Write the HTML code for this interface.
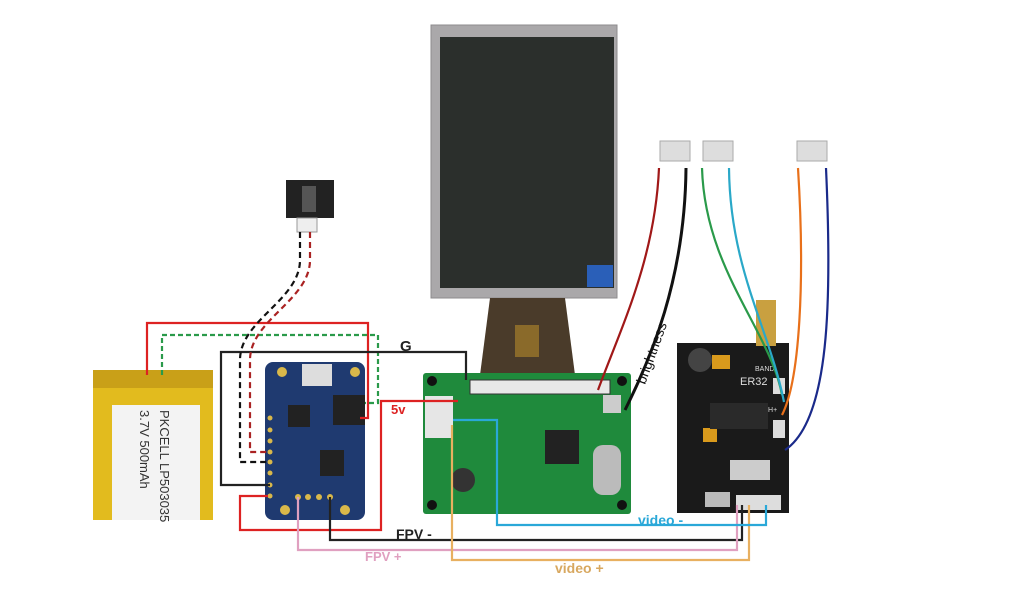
<!DOCTYPE html>
<html><head><meta charset="utf-8"><style>
html,body{margin:0;padding:0;background:#fff;}
svg{display:block;font-family:"Liberation Sans",sans-serif;}
</style></head><body>
<svg width="1024" height="602" viewBox="0 0 1024 602" xmlns="http://www.w3.org/2000/svg">
<!-- LCD -->
<rect x="431" y="25" width="186" height="273" fill="#aaa8aa" stroke="#8d8b8d"/>
<rect x="440" y="37" width="174" height="251" fill="#2b2f2c"/>
<rect x="587" y="265" width="26" height="22" fill="#2a5fb8"/>
<!-- ribbon -->
<polygon points="490,298 565,298 575,375 480,375" fill="#4a3b2a"/>
<rect x="515" y="325" width="24" height="32" fill="#8a6a2a"/>
<!-- green board -->
<rect x="423" y="373" width="208" height="141" rx="3" fill="#1f8a3c"/>
<rect x="470" y="380" width="140" height="14" fill="#e8e8e8" stroke="#333"/>
<rect x="425" y="396" width="28" height="42" fill="#e6e6e6"/>
<rect x="545" y="430" width="34" height="34" fill="#222"/>
<rect x="603" y="395" width="18" height="18" fill="#ccc"/>
<rect x="593" y="445" width="28" height="50" rx="10" fill="#bbb"/>
<circle cx="463" cy="480" r="12" fill="#333"/>
<circle cx="432" cy="381" r="5" fill="#111"/><circle cx="622" cy="381" r="5" fill="#111"/>
<circle cx="432" cy="505" r="5" fill="#111"/><circle cx="622" cy="505" r="5" fill="#111"/>
<!-- battery -->
<rect x="93" y="370" width="120" height="150" fill="#e2bb1e"/>
<rect x="93" y="370" width="120" height="18" fill="#c9a018"/>
<rect x="112" y="405" width="88" height="115" fill="#f3f3f3"/>
<text transform="translate(140,410) rotate(90)" font-size="13" fill="#333">3.7V 500mAh</text>
<text transform="translate(160,410) rotate(90)" font-size="13" fill="#333">PKCELL LP503035</text>
<!-- adafruit -->
<rect x="265" y="362" width="100" height="158" rx="8" fill="#1f3a70"/>
<rect x="302" y="364" width="30" height="22" fill="#ddd"/>
<rect x="333" y="395" width="32" height="30" fill="#222"/>
<rect x="288" y="405" width="22" height="22" fill="#222"/>
<rect x="320" y="450" width="24" height="26" fill="#222"/>
<circle cx="282" cy="372" r="5" fill="#d9b84a"/><circle cx="355" cy="372" r="5" fill="#d9b84a"/>
<circle cx="285" cy="510" r="5" fill="#d9b84a"/><circle cx="345" cy="510" r="5" fill="#d9b84a"/>
<g fill="#d9b84a"><circle cx="270" cy="418" r="2.5"/><circle cx="270" cy="430" r="2.5"/><circle cx="270" cy="441" r="2.5"/><circle cx="270" cy="452" r="2.5"/><circle cx="270" cy="462" r="2.5"/><circle cx="270" cy="473" r="2.5"/><circle cx="270" cy="485" r="2.5"/><circle cx="270" cy="496" r="2.5"/>
<circle cx="298" cy="497" r="3"/><circle cx="308" cy="497" r="3"/><circle cx="319" cy="497" r="3"/><circle cx="330" cy="497" r="3"/></g>
<!-- ER32 -->
<rect x="677" y="343" width="112" height="170" fill="#1a1a1a"/>
<circle cx="700" cy="360" r="12" fill="#444"/>
<rect x="712" y="355" width="18" height="14" fill="#d99a1c"/>
<rect x="703" y="428" width="14" height="14" fill="#d99a1c"/>
<text x="740" y="385" font-size="11" fill="#ddd">ER32</text>
<text x="755" y="371" font-size="7" fill="#ddd">BAND</text>
<text x="763" y="412" font-size="7" fill="#ddd">CH+</text>
<rect x="710" y="403" width="58" height="26" fill="#2a2a2a"/>
<rect x="730" y="460" width="40" height="20" fill="#ccc"/>
<rect x="705" y="492" width="25" height="15" fill="#bbb"/>
<rect x="736" y="495" width="45" height="15" fill="#ddd"/>
<rect x="773" y="378" width="12" height="16" fill="#ddd"/>
<rect x="773" y="420" width="12" height="18" fill="#ddd"/>
<!-- antenna -->
<rect x="756" y="300" width="20" height="46" fill="#c9a040"/>
<!-- switch -->
<rect x="286" y="180" width="48" height="38" fill="#222"/>
<rect x="302" y="186" width="14" height="26" fill="#555"/>
<rect x="297" y="218" width="20" height="14" fill="#eee" stroke="#999"/>
<!-- buttons -->
<g fill="#ddd" stroke="#aaa">
<rect x="660" y="141" width="30" height="20"/><rect x="703" y="141" width="30" height="20"/><rect x="797" y="141" width="30" height="20"/>
</g>
<g fill="none" stroke-width="2.2">
<path d="M147,375 V323 H368 V418 H360" stroke="#d22"/>
<path d="M162,375 V335 H378 V403 H365" stroke="#2a9a4a" stroke-dasharray="5,3"/>
<path d="M270,485 H221 V352 H466 V380" stroke="#222"/>
<path d="M268,496 H240 V530 H381 V401 H458" stroke="#d22"/>
<path d="M300,232 V260 C300,300 240,320 240,360 V462 H268" stroke="#111" stroke-dasharray="6,4"/>
<path d="M310,232 V260 C310,300 250,320 250,360 V452 H268" stroke="#a22" stroke-dasharray="6,4"/>
<path d="M330,497 V540 H742 V505" stroke="#222"/>
<path d="M298,497 V550 H737 V505" stroke="#e0a0c0"/>
<path d="M452,425 V560 H749 V505" stroke="#e8b060"/>
<path d="M453,420 H497 V525 H766 V505" stroke="#2aa8d8"/>
<path d="M659,168 C655,260 620,330 598,390" stroke="#a01818"/>
<path d="M686,168 C685,280 650,360 625,410" stroke="#111" stroke-width="3"/>
<path d="M702,168 C705,270 770,330 782,395" stroke="#2a9a4a"/>
<path d="M729,168 C730,270 770,330 784,402" stroke="#2aa8c8"/>
<path d="M798,168 C805,280 800,380 782,415" stroke="#e8701a"/>
<path d="M826,168 C832,300 830,420 785,450" stroke="#1a2a8a"/>
</g>
<text x="400" y="351" font-size="15" font-weight="bold" fill="#222">G</text>
<text x="391" y="414" font-size="13" font-weight="bold" fill="#d22">5v</text>
<text x="396" y="539" font-size="14" font-weight="bold" fill="#222">FPV -</text>
<text x="365" y="561" font-size="13" font-weight="bold" fill="#e0a0c0">FPV +</text>
<text x="638" y="525" font-size="14" font-weight="bold" fill="#2aa8d8">video -</text>
<text x="555" y="573" font-size="14" font-weight="bold" fill="#d8a860">video +</text>
<text transform="translate(645,385) rotate(-70)" font-size="14" fill="#111">brightness</text>
</svg>
</body></html>
